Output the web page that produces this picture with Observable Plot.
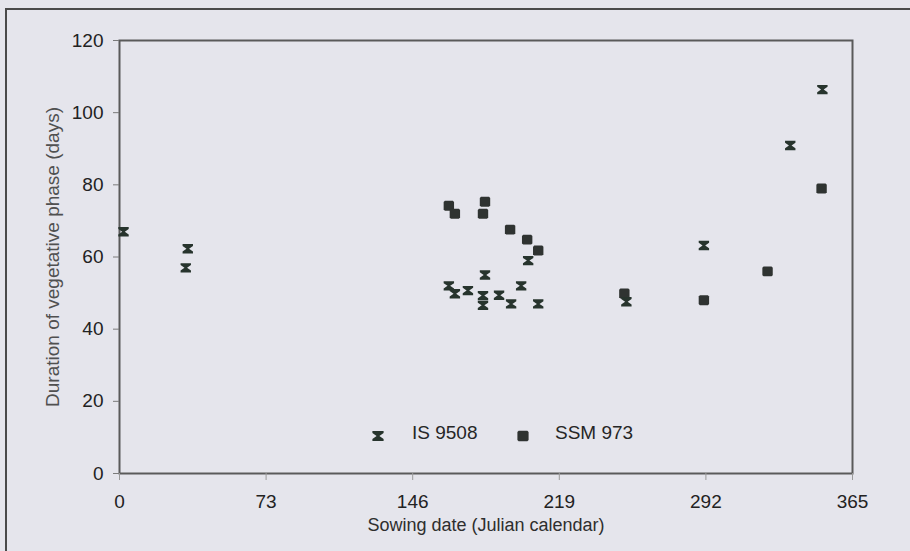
<!DOCTYPE html>
<html>
<head>
<meta charset="utf-8">
<script src="https://cdn.jsdelivr.net/npm/d3@7"></script>
<script src="https://cdn.jsdelivr.net/npm/@observablehq/plot@0.6"></script>
<style>
  html, body { margin: 0; padding: 0; background: #e5e5ec; overflow: hidden; }
  #wrap { position: relative; width: 910px; height: 551px; background: #e5e5ec; overflow: hidden; font-family: "Liberation Sans", Arial, sans-serif; }
  #border { position: absolute; left: 5px; top: 8px; width: 920px; height: 600px; border: 2px solid #4a4a4a; box-sizing: border-box; }
  #chart { position: absolute; left: 0; top: 0; }
  .leg { position: absolute; font-size: 19px; color: #262626; line-height: 1; }
</style>
</head>
<body>
<div id="wrap">
  <div id="border"></div>
  <div id="chart"></div>
</div>
<script>
// ---- data ----
const isX = [2, 33, 34, 164, 167, 173.5, 182, 181, 181, 189, 195, 200, 203.5, 208.5, 252.4, 291, 334, 350];
const isY = [67, 57, 62.3, 52, 49.8, 50.7, 55, 49.3, 46.6, 49.4, 47, 52, 59, 47, 47.6, 63.2, 90.9, 106.4];
const ssmX = [164, 167, 181, 182, 194.5, 203, 208.5, 251.4, 291, 322.7, 349.6];
const ssmY = [74.2, 72, 72, 75.3, 67.6, 64.8, 61.8, 49.9, 48, 56, 79];
const xTicks = [0, 73, 146, 219, 292, 365];
const yTicks = [0, 20, 40, 60, 80, 100, 120];
const seriesNames = ["IS 9508", "SSM 973"];
const xLabel = "Sowing date (Julian calendar)";
const yLabel = "Duration of vegetative phase (days)";

// custom symbols
const hourglass = {
  draw(ctx, size) {
    const r = Math.sqrt(size / Math.PI);
    const w = r, h = r * 0.9, b = r * 0.38, n = r * 0.25;
    ctx.moveTo(-w, -h); ctx.lineTo(w, -h); ctx.lineTo(w, -h + b); ctx.lineTo(n, 0);
    ctx.lineTo(w, h - b); ctx.lineTo(w, h); ctx.lineTo(-w, h); ctx.lineTo(-w, h - b);
    ctx.lineTo(-n, 0); ctx.lineTo(-w, -h + b); ctx.closePath();
  }
};
const block = {
  draw(ctx, size) {
    const r = Math.sqrt(size / Math.PI);
    const w = r, h = r * 0.95, c = 1.2;
    ctx.moveTo(-w + c, -h); ctx.lineTo(w - c, -h); ctx.lineTo(w, -h + c); ctx.lineTo(w, h - c);
    ctx.lineTo(w - c, h); ctx.lineTo(-w + c, h); ctx.lineTo(-w, h - c); ctx.lineTo(-w, -h + c); ctx.closePath();
  }
};

const isData = isX.map((x, i) => ({x, y: isY[i]}));
const ssmData = ssmX.map((x, i) => ({x, y: ssmY[i]}));

const chart = Plot.plot({
  width: 910,
  height: 551,
  marginLeft: 119,
  marginRight: 58,
  marginTop: 40,
  marginBottom: 78,
  style: {background: "transparent", fontFamily: "Liberation Sans, Arial, sans-serif", fontSize: "19px", color: "#222"},
  x: {domain: [0, 365]},
  y: {domain: [0, 120]},
  marks: [
    Plot.frame({stroke: "#5a5a5a", strokeWidth: 2}),
    Plot.axisX({ticks: xTicks, tickSize: 7, tickPadding: 14, stroke: "#9a9a9a", label: null, fill: "#222"}),
    Plot.axisY({ticks: yTicks, tickSize: 6, tickPadding: 10, stroke: "#7a7a7a", label: null, fill: "#222"}),
    Plot.text([xLabel], {text: d => d, frameAnchor: "bottom", lineAnchor: "middle", textAnchor: "middle", dy: 52, fill: "#2e2e2e", fontSize: 18}),
    Plot.text([yLabel], {text: d => d, frameAnchor: "left", lineAnchor: "middle", textAnchor: "middle", dx: -67, rotate: -90, fill: "#505050", fontSize: 19}),
    Plot.dot(ssmData, {x: "x", y: "y", symbol: block, r: 5.2, fill: "#2f3331", stroke: "none"}),
    Plot.dot(isData, {x: "x", y: "y", symbol: hourglass, r: 5.2, fill: "#27342d", stroke: "none"})
  ]
});
document.getElementById("chart").appendChild(chart);

// legend (HTML overlay)
function legendItem(sym, color, name, symLeft, textLeft) {
  const wrap = document.getElementById("wrap");
  const svg = d3.create("svg").attr("width", 16).attr("height", 16)
    .style("position", "absolute").style("left", (symLeft - 8) + "px").style("top", (436 - 8) + "px");
  svg.append("path").attr("transform", "translate(8,8)")
    .attr("d", d3.symbol(sym, 5.6 * 5.6 * Math.PI)()).attr("fill", color);
  wrap.appendChild(svg.node());
  const t = document.createElement("div");
  t.className = "leg";
  t.textContent = name;
  t.style.left = textLeft + "px";
  t.style.top = "423px";
  wrap.appendChild(t);
}
legendItem(hourglass, "#27342d", seriesNames[0], 378, 412);
legendItem(block, "#2f3331", seriesNames[1], 523, 555);
</script>
</body>
</html>
